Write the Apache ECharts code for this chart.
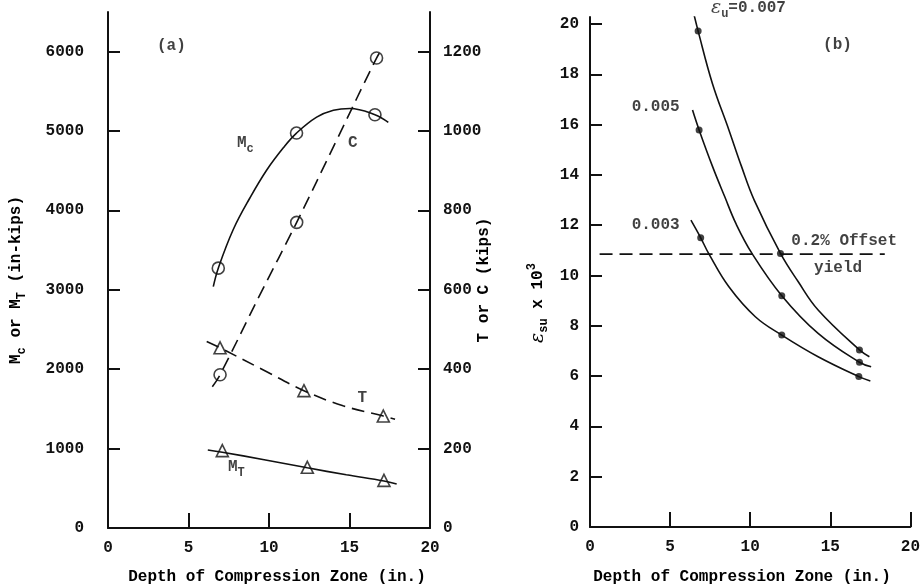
<!DOCTYPE html>
<html>
<head>
<meta charset="utf-8">
<script src="https://cdn.jsdelivr.net/npm/echarts@6/dist/echarts.min.js"></script>
<style>
  html, body { margin: 0; padding: 0; background: #fff; }
  #main { width: 923px; height: 586px; }
</style>
</head>
<body>
<div id="main"></div>
<script>
// panel (a) - moments (in-kips, left axis) and forces (kips, right axis)
const mcPoints = [[6.85, 3273], [11.71, 4975], [16.58, 5206]];
const mcCurve = [[6.54, 3040], [6.85, 3273], [7.78, 3760], [8.82, 4160], [9.86, 4510], [10.89, 4790], [11.71, 4975], [12.96, 5175], [14.0, 5262], [15.03, 5285], [16.58, 5206], [17.41, 5109]];
const cPoints = [[6.96, 386], [11.72, 770], [16.68, 1184]];
const cCurve = [[6.48, 356], [6.96, 386], [9.44, 588], [11.72, 770], [14.2, 977], [16.68, 1184], [17.06, 1209]];
const tPoints = [[6.96, 454], [12.17, 346], [17.1, 282]];
const tCurve = [[6.13, 470], [6.96, 454], [9.65, 398], [12.17, 346], [14.6, 308], [17.1, 282], [17.83, 274]];
const mtPoints = [[7.1, 975], [12.38, 765], [17.14, 600]];
const mtCurve = [[6.2, 983], [7.1, 955], [9.7, 860], [12.38, 758], [14.8, 670], [17.14, 592], [17.93, 555]];

// panel (b) - steel strain vs depth for three ultimate concrete strains
const e007Points = [[6.75, 19.72], [11.89, 10.88], [16.82, 7.04]];
const e007Curve = [[6.4, 20.62], [6.75, 19.72], [7.64, 17.64], [8.67, 15.79], [9.45, 14.35], [10.25, 13.0], [11.89, 10.88], [13.0, 9.75], [14.24, 8.63], [16.82, 7.04], [17.44, 6.77]];
const e005Points = [[6.81, 15.79], [11.97, 9.2], [16.82, 6.55]];
const e005Curve = [[6.4, 16.58], [6.81, 15.79], [7.64, 14.35], [8.4, 13.15], [9.12, 12.05], [10.11, 10.88], [11.97, 9.2], [14.24, 7.7], [16.82, 6.55], [17.55, 6.37]];
const e003Points = [[6.91, 11.5], [11.97, 7.63], [16.78, 5.98]];
const e003Curve = [[6.3, 12.2], [6.91, 11.5], [7.43, 10.85], [8.67, 9.55], [10.32, 8.36], [11.97, 7.63], [14.24, 6.77], [16.78, 5.98], [17.5, 5.81]];
const yieldLine = [[0.6, 10.85], [18.4, 10.85]];

const xTicks = [0, 5, 10, 15, 20];
const momentTicks = [0, 1000, 2000, 3000, 4000, 5000, 6000];
const forceTicks = [0, 200, 400, 600, 800, 1000, 1200];
const strainTicks = [0, 2, 4, 6, 8, 10, 12, 14, 16, 18, 20];

// text annotations: [x, y, rich text]
const notesA = [
  [3.04, 6076, '{m|(a)}'],
  [8.01, 4853, '{m|M}{s|c}'],
  [14.9, 4853, '{m|C}'],
  [15.5, 1639, '{m|T}'],
  [7.45, 769, '{m|M}{s|T}']
];
const notesB = [
  [7.55, 20.64, '{e|ε}{s|u}{m|=0.007}'],
  [14.55, 19.16, '{m|(b)}'],
  [2.6, 16.7, '{m|0.005}'],
  [2.6, 12.0, '{m|0.003}'],
  [12.57, 11.37, '{m|0.2% Offset}'],
  [13.99, 10.3, '{m|yield}']
];

const FONT = 'Liberation Mono';
const INK = '#111';
const rich = {
  m: { fontFamily: FONT, fontSize: 16, fontWeight: 'bold', color: INK },
  s: { fontFamily: FONT, fontSize: 12, fontWeight: 'bold', color: INK, padding: [12, 0, 0, 0] },
  p: { fontFamily: FONT, fontSize: 12, fontWeight: 'bold', color: INK, padding: [0, 0, 12, 0] },
  e: { fontFamily: 'DejaVu Serif', fontSize: 19, fontStyle: 'italic', color: INK }
};

const axisLine = { show: true, onZero: false, lineStyle: { color: INK, width: 2 } };
const tickStyle = { color: INK, width: 2 };
const labelStyle = { fontFamily: FONT, fontSize: 16, fontWeight: 'bold', color: INK };
const plain = function (v) { return String(v); };

function xAxis(gridIndex) {
  return {
    type: 'value', gridIndex: gridIndex, min: 0, max: 20, interval: 5,
    axisLine: axisLine,
    axisTick: { inside: true, length: 15, lineStyle: tickStyle, customValues: xTicks },
    axisLabel: Object.assign({ margin: 12, customValues: xTicks, formatter: plain }, labelStyle),
    splitLine: { show: false }
  };
}

function yAxis(gridIndex, max, ticks, position, margin) {
  return {
    type: 'value', gridIndex: gridIndex, min: 0, max: max, position: position,
    axisLine: axisLine,
    axisTick: { inside: true, length: 12, lineStyle: tickStyle, customValues: ticks },
    axisLabel: Object.assign({ margin: margin, customValues: ticks, formatter: plain }, labelStyle),
    splitLine: { show: false }
  };
}

function curve(data, xi, yi, dashed) {
  return {
    type: 'line', xAxisIndex: xi, yAxisIndex: yi, data: data, smooth: 0.4,
    symbol: 'none', silent: true,
    lineStyle: { color: INK, width: 1.6, type: dashed ? [13, 7] : 'solid' }
  };
}

function marks(data, xi, yi, symbol, size, filled) {
  return {
    type: 'scatter', xAxisIndex: xi, yAxisIndex: yi, data: data, symbol: symbol,
    symbolSize: size, silent: true, z: 5,
    itemStyle: filled ? { color: INK } : { color: 'rgba(0,0,0,0)', borderColor: INK, borderWidth: 1.6 }
  };
}

function notes(list, xi, yi) {
  return {
    type: 'scatter', xAxisIndex: xi, yAxisIndex: yi, symbolSize: 0, silent: true, clip: false,
    data: list.map(function (n) {
      return { value: [n[0], n[1]], label: { show: true, position: 'right', distance: 0, formatter: n[2], rich: rich } };
    })
  };
}

function title(x, y, text, rotated) {
  return {
    type: 'text', x: x, y: y, rotation: rotated ? Math.PI / 2 : 0,
    style: { text: text, rich: rich, align: 'center', verticalAlign: 'middle', textAlign: 'center', textVerticalAlign: 'middle' }
  };
}

const chart = echarts.init(document.getElementById('main'));
chart.setOption({
  animation: false,
  backgroundColor: '#fff',
  grid: [
    { left: 108, top: 12, width: 322, height: 516 },
    { left: 590, top: 17, width: 323, height: 510 }
  ],
  xAxis: [xAxis(0), xAxis(1)],
  yAxis: [
    yAxis(0, 6500, momentTicks, 'left', 24),
    yAxis(0, 1300, forceTicks, 'right', 13),
    yAxis(1, 20.28, strainTicks, 'left', 11)
  ],
  series: [
    curve(mcCurve, 0, 0, false),
    curve(cCurve, 0, 1, true),
    curve(tCurve, 0, 1, true),
    curve(mtCurve, 0, 0, false),
    marks(mcPoints, 0, 0, 'circle', 12, false),
    marks(cPoints, 0, 1, 'circle', 12, false),
    marks(tPoints, 0, 1, 'triangle', 12, false),
    marks(mtPoints, 0, 0, 'triangle', 12, false),
    notes(notesA, 0, 0),
    curve(e007Curve, 1, 2, false),
    curve(e005Curve, 1, 2, false),
    curve(e003Curve, 1, 2, false),
    curve(yieldLine, 1, 2, true),
    marks(e007Points, 1, 2, 'circle', 7, true),
    marks(e005Points, 1, 2, 'circle', 7, true),
    marks(e003Points, 1, 2, 'circle', 7, true),
    notes(notesB, 1, 2)
  ],
  graphic: [
    title(16, 280, '{m|M}{s|c}{m| or M}{s|T}{m| (in-kips)}', true),
    title(484, 280, '{m|T or C (kips)}', true),
    title(538, 303, '{e|ε}{s|su}{m| x 10}{p|3}', true),
    title(277, 577, '{m|Depth of Compression Zone (in.)}', false),
    title(742, 577, '{m|Depth of Compression Zone (in.)}', false)
  ]
});
</script>
</body>
</html>
